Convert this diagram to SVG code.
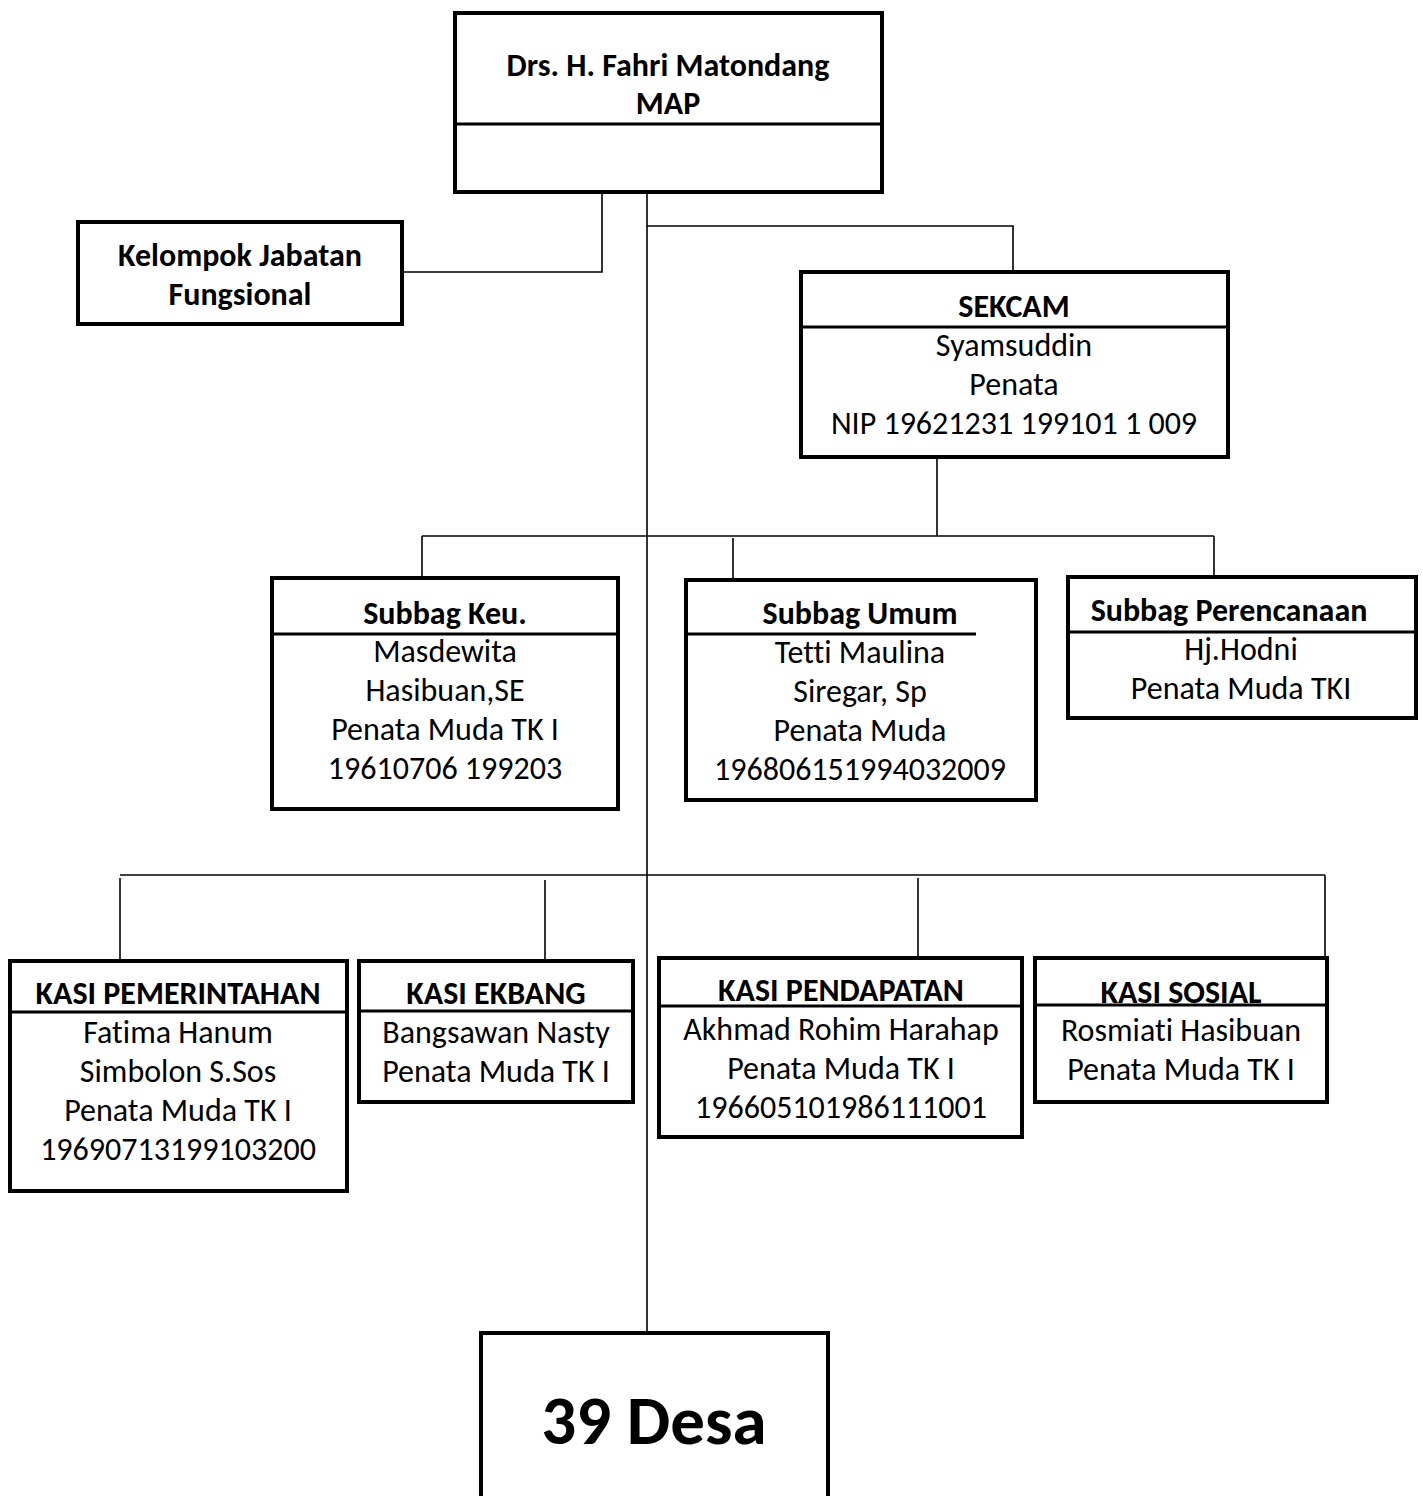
<svg xmlns="http://www.w3.org/2000/svg" width="1423" height="1496" viewBox="0 0 1423 1496">
<style>
.box{fill:#fff;stroke:#000;stroke-width:4}
.div{stroke:#000;stroke-width:3}
.con{stroke:#000;stroke-width:1.6;fill:none}
text{font-family:Carlito,Lato,"Liberation Sans",sans-serif;font-size:32px;fill:#000;text-anchor:middle;font-variant-ligatures:none}
.b{font-weight:bold}
</style>
<rect width="1423" height="1496" fill="#fff"/>
<g id="connectors">
<path class="con" d="M647 192V1333"/>
<path class="con" d="M602 192V272H402"/>
<path class="con" d="M647 226H1013V270"/>
<path class="con" d="M937 457V536"/>
<path class="con" d="M422 536H1214"/>
<path class="con" d="M422 536V576"/>
<path class="con" d="M733 538V578"/>
<path class="con" d="M1214 536V577"/>
<path class="con" d="M120 875H1325"/>
<path class="con" d="M120 878V960"/>
<path class="con" d="M545 880V960"/>
<path class="con" d="M918 878V957"/>
<path class="con" d="M1325 875V957"/>
</g>
<g id="camat">
<rect class="box" x="455" y="13" width="427" height="179"/>
<line class="div" x1="455" y1="124" x2="882" y2="124"/>
<text class="b" x="668" y="76">Drs. H. Fahri Matondang</text>
<text class="b" x="668" y="114">MAP</text>
</g>
<g id="kelompok">
<rect class="box" x="78" y="222" width="324" height="102"/>
<text class="b" x="240" y="266">Kelompok Jabatan</text>
<text class="b" x="240" y="305">Fungsional</text>
</g>
<g id="sekcam">
<rect class="box" x="801" y="272" width="427" height="185"/>
<line class="div" x1="801" y1="327" x2="1228" y2="327"/>
<text class="b" x="1014" y="317">SEKCAM</text>
<text x="1014" y="356">Syamsuddin</text>
<text x="1014" y="395">Penata</text>
<text x="1014" y="434">NIP 19621231 199101 1 009</text>
</g>
<g id="subbag-keu">
<rect class="box" x="272" y="578" width="346" height="231"/>
<line class="div" x1="272" y1="634" x2="618" y2="634"/>
<text class="b" x="445" y="624">Subbag Keu.</text>
<text x="445" y="662">Masdewita</text>
<text x="445" y="701">Hasibuan,SE</text>
<text x="445" y="740">Penata Muda TK I</text>
<text x="445" y="779">19610706 199203</text>
</g>
<g id="subbag-umum">
<rect class="box" x="686" y="580" width="350" height="220"/>
<line class="div" x1="686" y1="634" x2="976" y2="634"/>
<text class="b" x="860" y="624">Subbag Umum</text>
<text x="860" y="663">Tetti Maulina</text>
<text x="860" y="702">Siregar, Sp</text>
<text x="860" y="741">Penata Muda</text>
<text x="860" y="780">196806151994032009</text>
</g>
<g id="subbag-perencanaan">
<rect class="box" x="1068" y="577" width="348" height="141"/>
<line class="div" x1="1068" y1="632" x2="1416" y2="632"/>
<text class="b" x="1229" y="621">Subbag Perencanaan</text>
<text x="1241" y="660">Hj.Hodni</text>
<text x="1241" y="699">Penata Muda TKI</text>
</g>
<g id="kasi-pemerintahan">
<rect class="box" x="10" y="961" width="337" height="230"/>
<line class="div" x1="10" y1="1012" x2="347" y2="1012"/>
<text class="b" x="178" y="1004">KASI PEMERINTAHAN</text>
<text x="178" y="1043">Fatima Hanum</text>
<text x="178" y="1082">Simbolon S.Sos</text>
<text x="178" y="1121">Penata Muda TK I</text>
<text x="178" y="1160">19690713199103200</text>
</g>
<g id="kasi-ekbang">
<rect class="box" x="359" y="961" width="274" height="141"/>
<line class="div" x1="359" y1="1011" x2="633" y2="1011"/>
<text class="b" x="496" y="1004">KASI EKBANG</text>
<text x="496" y="1043">Bangsawan Nasty</text>
<text x="496" y="1082">Penata Muda TK I</text>
</g>
<g id="kasi-pendapatan">
<rect class="box" x="659" y="958" width="363" height="179"/>
<line class="div" x1="659" y1="1006" x2="1022" y2="1006"/>
<text class="b" x="841" y="1001">KASI PENDAPATAN</text>
<text x="841" y="1040">Akhmad Rohim Harahap</text>
<text x="841" y="1079">Penata Muda TK I</text>
<text x="841" y="1118">196605101986111001</text>
</g>
<g id="kasi-sosial">
<rect class="box" x="1035" y="958" width="292" height="144"/>
<line class="div" x1="1035" y1="1005" x2="1327" y2="1005"/>
<text class="b" x="1181" y="1003">KASI SOSIAL</text>
<text x="1181" y="1041">Rosmiati Hasibuan</text>
<text x="1181" y="1080">Penata Muda TK I</text>
</g>
<g id="desa">
<rect class="box" x="481" y="1333" width="347" height="180"/>
<text class="b" x="654" y="1444" style="font-size:69px">39 Desa</text>
</g>
</svg>
